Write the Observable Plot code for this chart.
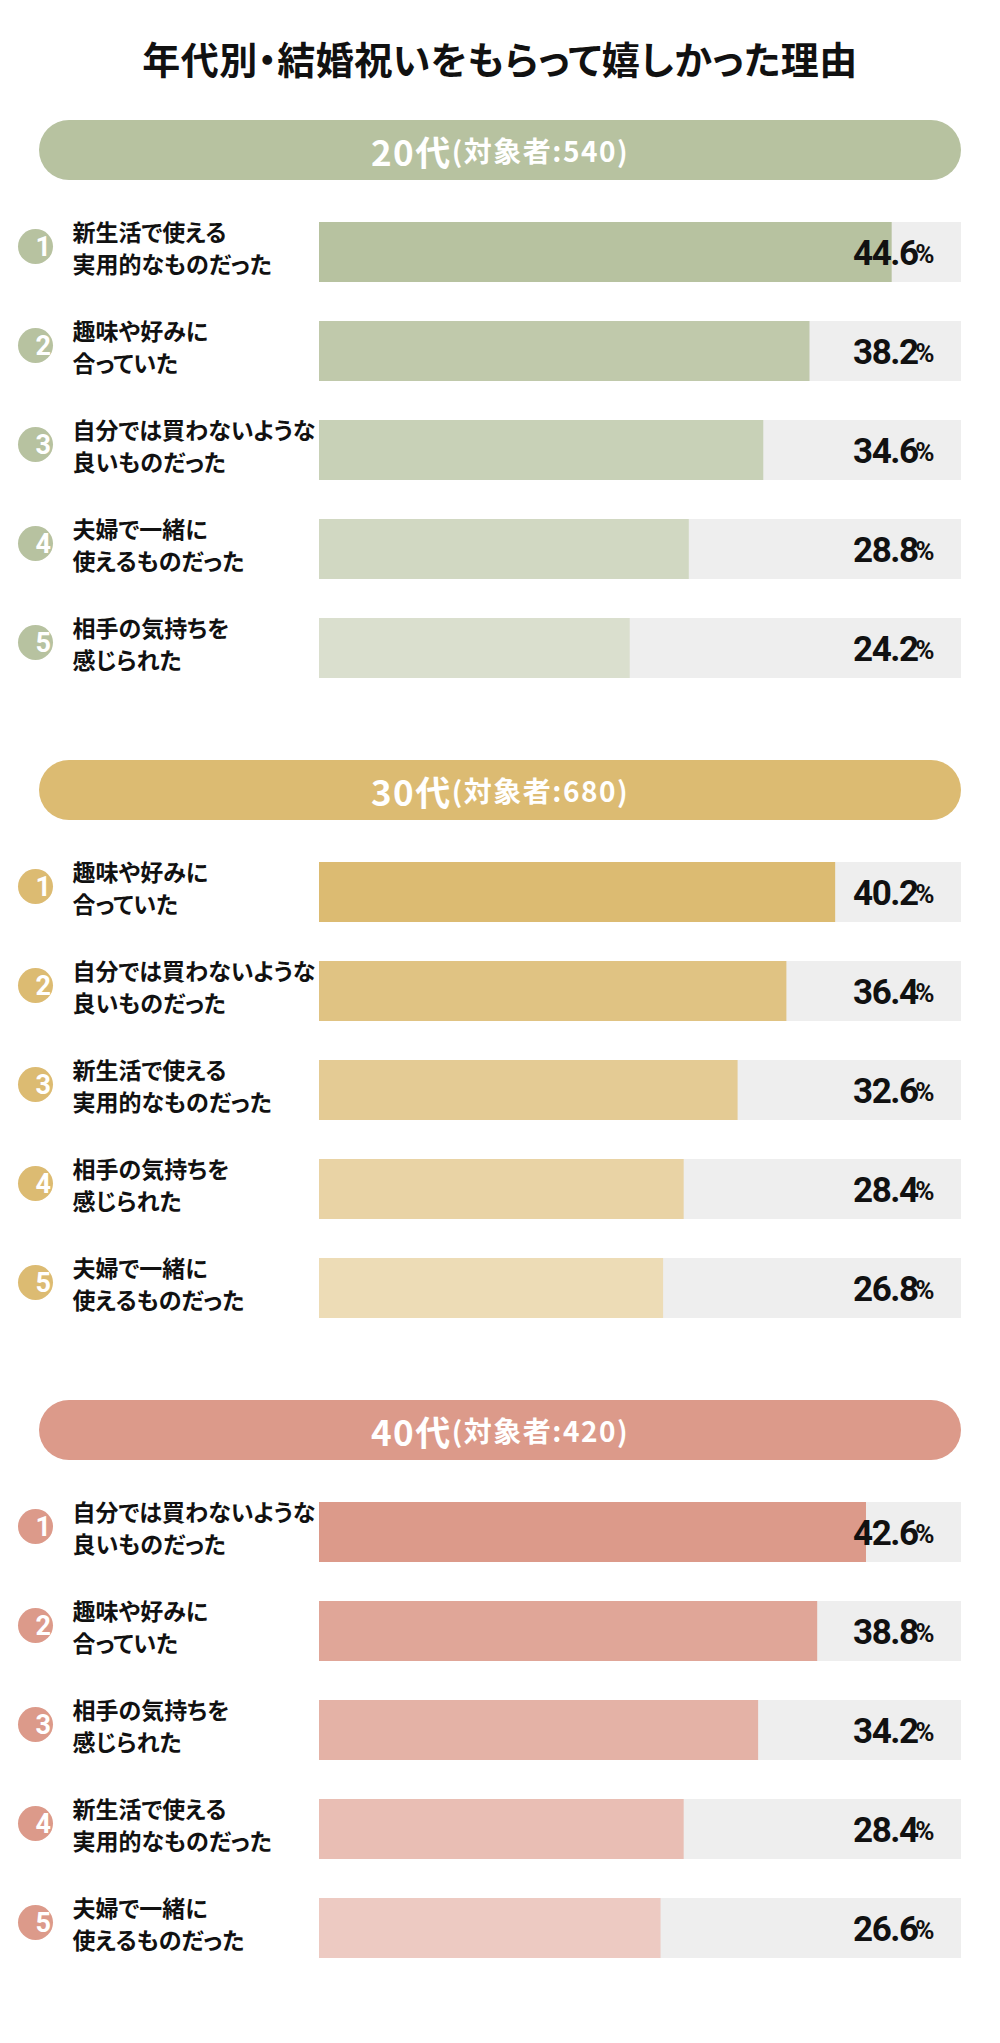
<!DOCTYPE html>
<html><head><meta charset="utf-8">
<script src="https://cdn.jsdelivr.net/npm/d3@7"></script>
<script src="https://cdn.jsdelivr.net/npm/@observablehq/plot@0.6"></script>
<style>
body{margin:0;background:#fff;width:1000px;font-family:"Noto Sans CJK JP","Noto Sans",sans-serif;}
.title{height:120px;display:flex;align-items:center;justify-content:center;font-size:38px;font-weight:700;color:#111;padding-bottom:6px;box-sizing:border-box;font-feature-settings:"palt";letter-spacing:0.5px;}
.header{margin:0 39px;height:60px;border-radius:30px;color:#fff;display:flex;align-items:center;justify-content:center;font-weight:700;line-height:1;letter-spacing:1.5px;}
.header .big{font-size:35px;}
.header .small{font-size:28px;}
svg{display:block;}
</style></head><body>
<div id="root"></div>
<script>
const title = "年代別・結婚祝いをもらって嬉しかった理由";
const ageGroups = ["20代", "30代", "40代"];
const respondents = [540, 680, 420];
const groupColors = ["#b7c2a0", "#dcbb72", "#dc9a8a"];
const ranks = [1, 2, 3, 4, 5];
const labels20 = ["新生活で使える\n実用的なものだった", "趣味や好みに\n合っていた", "自分では買わないような\n良いものだった", "夫婦で一緒に\n使えるものだった", "相手の気持ちを\n感じられた"];
const values20 = [44.6, 38.2, 34.6, 28.8, 24.2];
const labels30 = ["趣味や好みに\n合っていた", "自分では買わないような\n良いものだった", "新生活で使える\n実用的なものだった", "相手の気持ちを\n感じられた", "夫婦で一緒に\n使えるものだった"];
const values30 = [40.2, 36.4, 32.6, 28.4, 26.8];
const labels40 = ["自分では買わないような\n良いものだった", "趣味や好みに\n合っていた", "相手の気持ちを\n感じられた", "新生活で使える\n実用的なものだった", "夫婦で一緒に\n使えるものだった"];
const values40 = [42.6, 38.8, 34.2, 28.4, 26.6];
const xMax = 50;

const allLabels = [labels20, labels30, labels40];
const allValues = [values20, values30, values40];

const root = document.getElementById("root");
const t = document.createElement("div");
t.className = "title";
t.textContent = title;
root.appendChild(t);

const jp = '"Noto Sans CJK JP", "Noto Sans", sans-serif';
const num = '"Roboto", "Liberation Sans", sans-serif';

ageGroups.forEach((g, gi) => {
  const base = groupColors[gi];
  const h = document.createElement("div");
  h.className = "header";
  h.style.background = base;
  h.innerHTML = `<span class="big">${g}</span><span class="small">(対象者:${respondents[gi]})</span>`;
  root.appendChild(h);

  const data = ranks.map((r, i) => ({rank: r, label: allLabels[gi][i], value: allValues[gi][i]}));
  const shades = ranks.map((r) => d3.interpolateRgb(base, "#ffffff")((r - 1) * 0.12));

  const chart = Plot.plot({
    width: 1000,
    height: 580,
    marginLeft: 319,
    marginRight: 39,
    marginTop: 21,
    marginBottom: 62,
    x: {domain: [0, xMax], axis: null},
    y: {domain: ranks, axis: null, paddingInner: 0.396, paddingOuter: 0.198},
    color: {domain: ranks, range: shades},
    style: {fontFamily: jp, background: "#fff"},
    marks: [
      Plot.barX(data, {x1: 0, x2: xMax, y: "rank", fill: "#eeeeee"}),
      Plot.barX(data, {x: "value", y: "rank", fill: "rank"}),
      Plot.dot(data, {y: "rank", frameAnchor: "left", dx: -284, dy: -6, r: 17.5, fill: base, stroke: null}),
      Plot.text(data, {y: "rank", text: (d) => String(d.rank), frameAnchor: "left", dx: -284, dy: -5, fill: "#fff", fontSize: 27, fontWeight: 700, fontFamily: num}),
      Plot.text(data, {y: "rank", text: "label", frameAnchor: "left", dx: -247, dy: -6, textAnchor: "start", fontSize: 23, fontWeight: 700, lineHeight: 1.42, fill: "#111", fontFamily: jp}),
      Plot.text(data, {y: "rank", text: (d) => d.value.toFixed(1), frameAnchor: "right", dx: -44, dy: 1, textAnchor: "end", fontSize: 35, fontWeight: 700, fill: "#111", fontFamily: num}),
      Plot.text(data, {y: "rank", text: () => "%", frameAnchor: "right", dx: -27, dy: 2, textAnchor: "end", fontSize: 26, fontWeight: 700, fill: "#111", fontFamily: num})
    ]
  });
  chart.querySelectorAll("text").forEach((el) => {
    el.style.fontFeatureSettings = '"palt"';
  });
  chart.querySelectorAll("g[aria-label='text']").forEach((el) => {
    if (parseFloat(el.getAttribute("font-size")) === 35) el.style.letterSpacing = "-1.5px";
  });
  root.appendChild(chart);
});
</script>
</body></html>
